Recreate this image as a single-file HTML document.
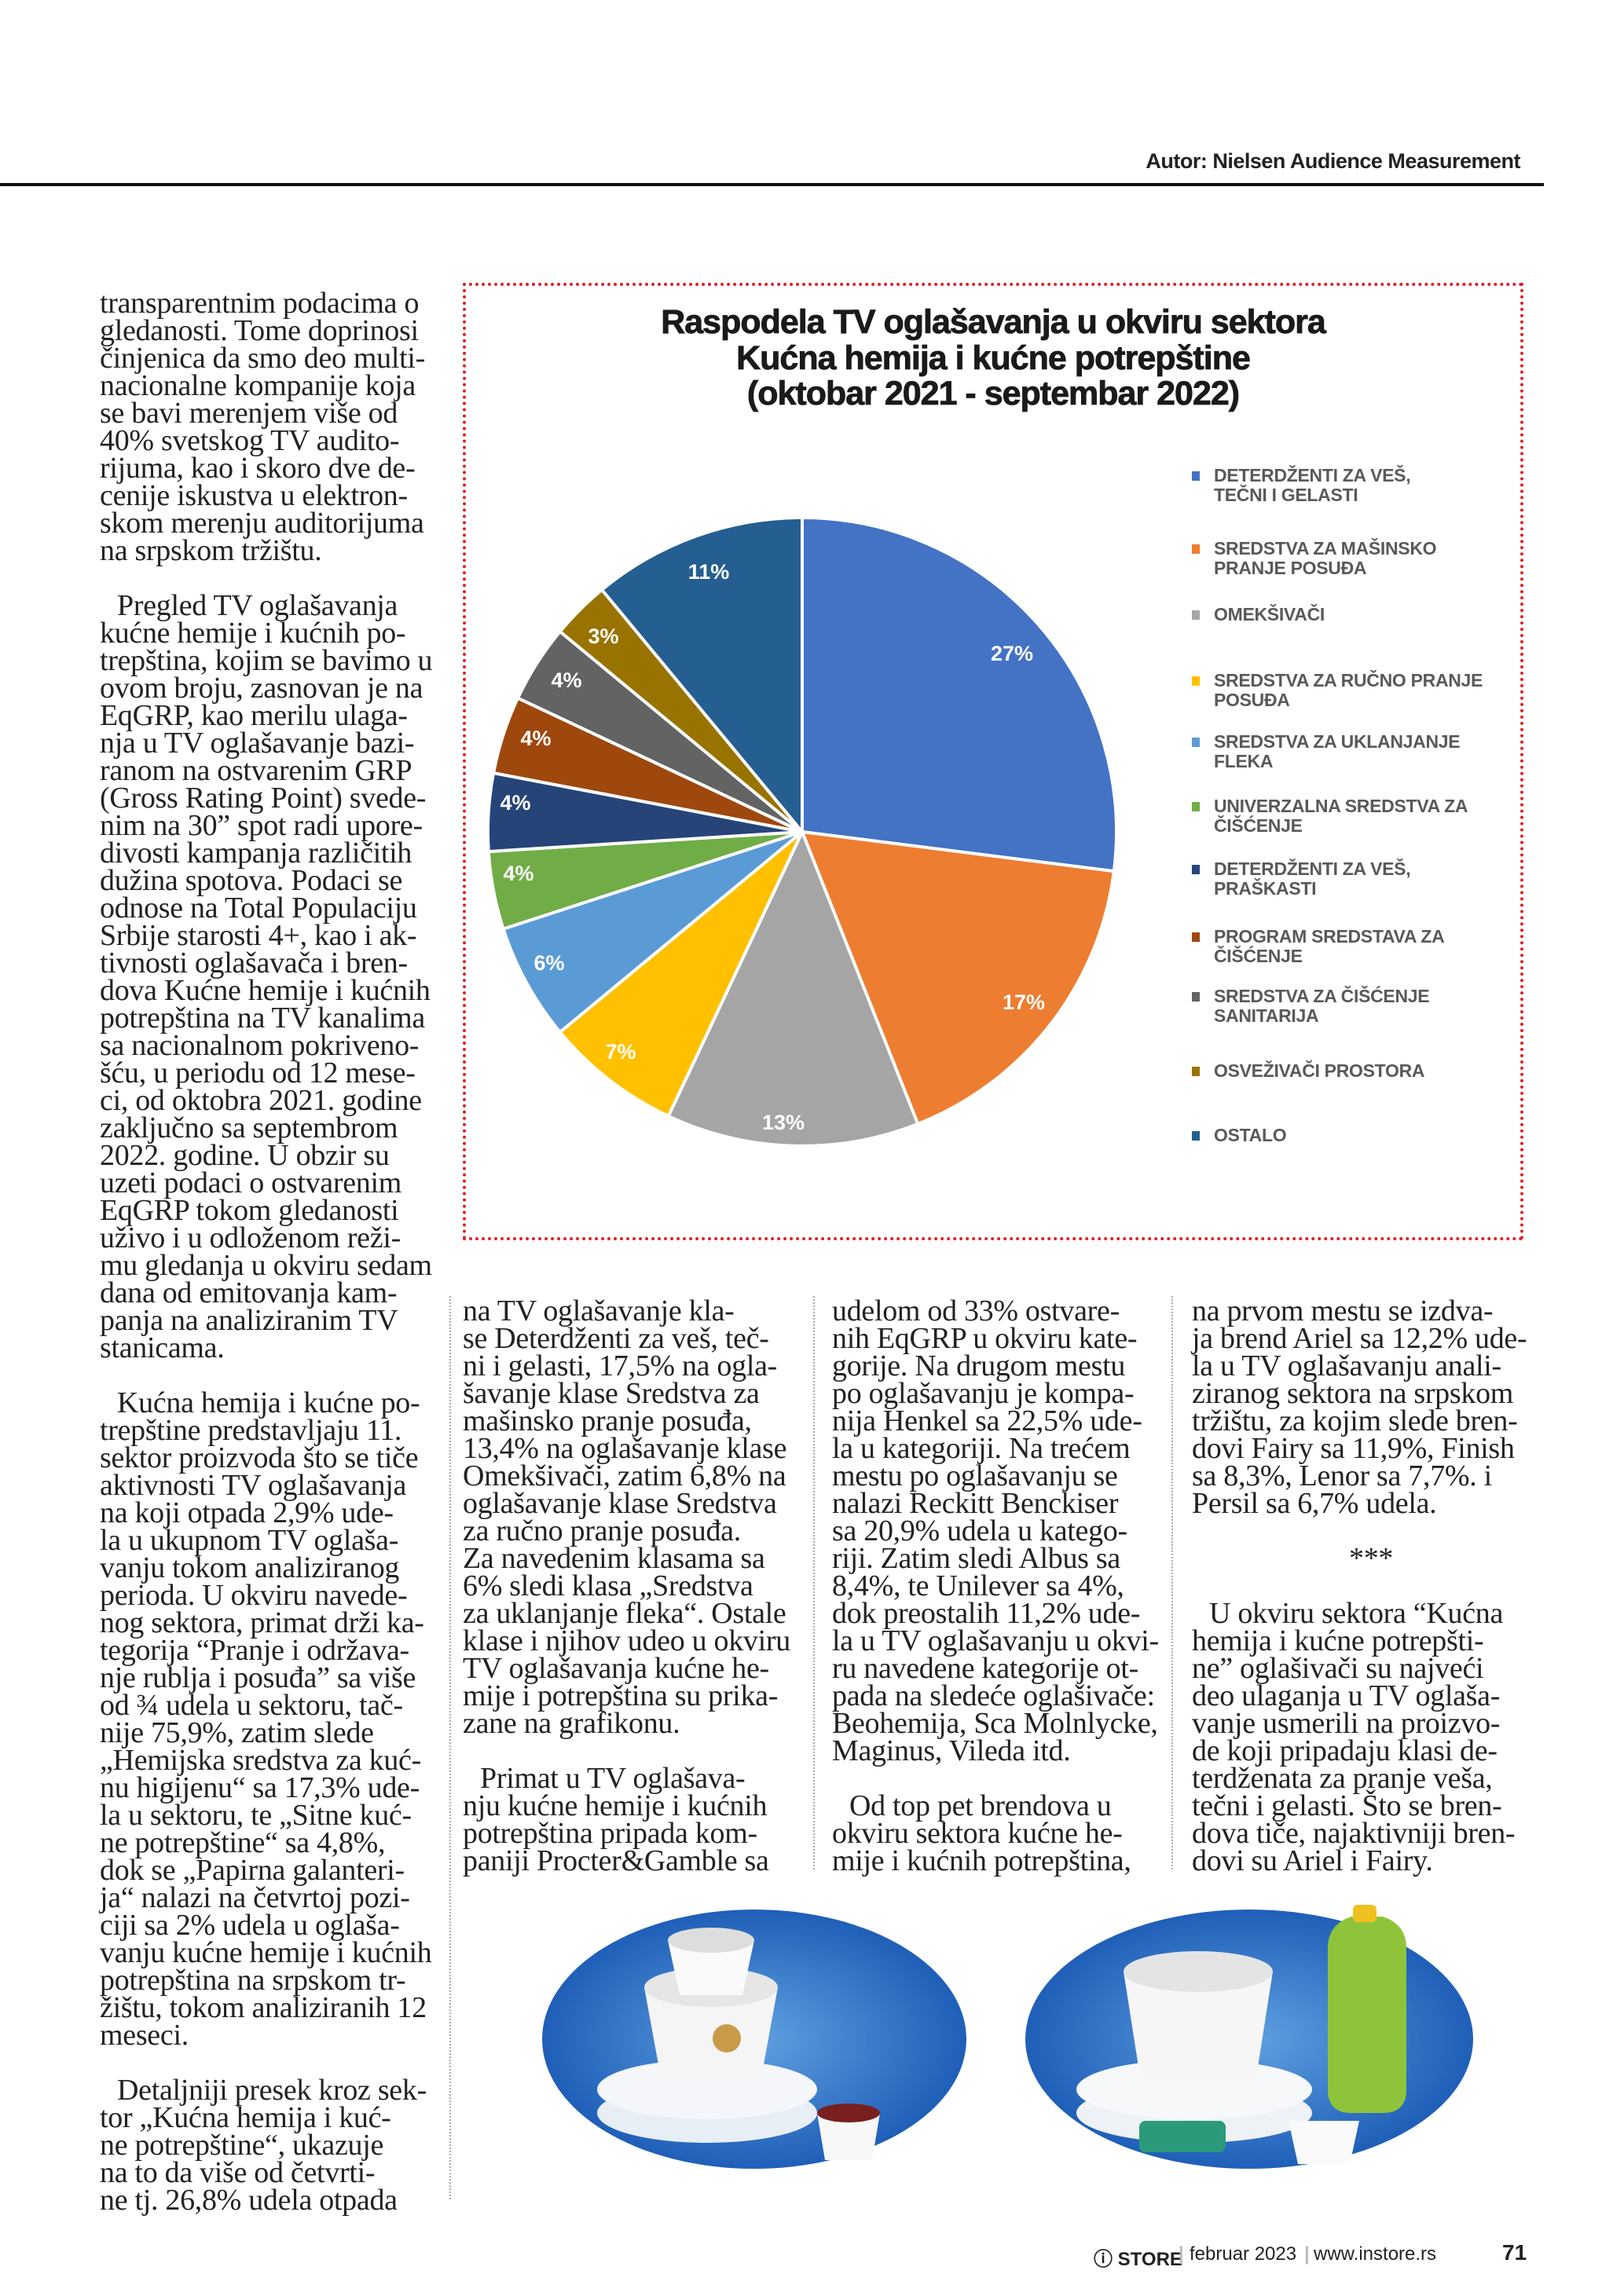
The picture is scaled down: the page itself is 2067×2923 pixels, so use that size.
<!DOCTYPE html>
<html><head><meta charset="utf-8">
<style>
body{margin:0;width:2067px;height:2923px;background:#fff;position:relative;overflow:hidden;font-family:"Liberation Serif",serif;color:#222}
.col{position:absolute;font-size:38px;line-height:35px;white-space:nowrap;letter-spacing:-0.3px}
.col div{height:35px}
.ind{padding-left:22px}
.rule{position:absolute;top:1650px;height:1150px;border-left:2px dotted #aaa}
.leg{position:absolute;left:1545px;font-family:"Liberation Sans",sans-serif;font-weight:bold;font-size:23px;line-height:25px;color:#595959;letter-spacing:-0.3px}
.sq{position:absolute;left:1517px;width:10px;height:12px}
.pl{font-family:"Liberation Sans",sans-serif;font-weight:bold;font-size:27px;fill:#fff}
.ft{position:absolute;top:2856px;font-family:"Liberation Sans",sans-serif;font-weight:bold;font-size:24px;color:#222}
</style></head><body>
<div style="position:absolute;right:132px;top:190px;font-family:'Liberation Sans',sans-serif;font-weight:bold;font-size:27px;letter-spacing:-0.5px">Autor: Nielsen Audience Measurement</div>
<div style="position:absolute;left:0;top:233px;width:1965px;height:4px;background:#111"></div>

<div style="position:absolute;left:589px;top:360px;width:1342px;height:1211px;border:4px dotted #e02020"></div>
<div style="position:absolute;left:589px;top:388px;width:1350px;text-align:center;font-family:'Liberation Sans',sans-serif;font-weight:bold;font-size:43px;line-height:45.5px;letter-spacing:-1px;color:#1a1a1a;-webkit-text-stroke:0.8px #1a1a1a">Raspodela TV oglašavanja u okviru sektora<br>Kućna hemija i kućne potrepštine<br>(oktobar 2021 - septembar 2022)</div>

<svg id="pie" style="position:absolute;left:0;top:0" width="2067" height="2923"></svg>

<div class="sq" style="top:600px;background:#4472C4"></div><div class="leg" style="top:593px">DETERDŽENTI ZA VEŠ,<br>TEČNI I GELASTI</div>
<div class="sq" style="top:693px;background:#ED7D31"></div><div class="leg" style="top:686px">SREDSTVA ZA MAŠINSKO<br>PRANJE POSUĐA</div>
<div class="sq" style="top:777px;background:#A5A5A5"></div><div class="leg" style="top:770px">OMEKŠIVAČI</div>
<div class="sq" style="top:861px;background:#FFC000"></div><div class="leg" style="top:854px">SREDSTVA ZA RUČNO PRANJE<br>POSUĐA</div>
<div class="sq" style="top:939px;background:#5B9BD5"></div><div class="leg" style="top:932px">SREDSTVA ZA UKLANJANJE<br>FLEKA</div>
<div class="sq" style="top:1021px;background:#70AD47"></div><div class="leg" style="top:1014px">UNIVERZALNA SREDSTVA ZA<br>ČIŠĆENJE</div>
<div class="sq" style="top:1101px;background:#264478"></div><div class="leg" style="top:1094px">DETERDŽENTI ZA VEŠ,<br>PRAŠKASTI</div>
<div class="sq" style="top:1187px;background:#9E480E"></div><div class="leg" style="top:1180px">PROGRAM SREDSTAVA ZA<br>ČIŠĆENJE</div>
<div class="sq" style="top:1263px;background:#636363"></div><div class="leg" style="top:1256px">SREDSTVA ZA ČIŠĆENJE<br>SANITARIJA</div>
<div class="sq" style="top:1358px;background:#997300"></div><div class="leg" style="top:1351px">OSVEŽIVAČI PROSTORA</div>
<div class="sq" style="top:1440px;background:#255E91"></div><div class="leg" style="top:1433px">OSTALO</div>

<div class="col" style="left:127px;top:369px">
<div>transparentnim podacima o</div><div>gledanosti. Tome doprinosi</div><div>činjenica da smo deo multi-</div><div>nacionalne kompanije koja</div><div>se bavi merenjem više od</div><div>40% svetskog TV audito-</div><div>rijuma, kao i skoro dve de-</div><div>cenije iskustva u elektron-</div><div>skom merenju auditorijuma</div><div>na srpskom tržištu.</div><div></div>
<div class="ind">Pregled TV oglašavanja</div><div>kućne hemije i kućnih po-</div><div>trepština, kojim se bavimo u</div><div>ovom broju, zasnovan je na</div><div>EqGRP, kao merilu ulaga-</div><div>nja u TV oglašavanje bazi-</div><div>ranom na ostvarenim GRP</div><div>(Gross Rating Point) svede-</div><div>nim na 30” spot radi upore-</div><div>divosti kampanja različitih</div><div>dužina spotova. Podaci se</div><div>odnose na Total Populaciju</div><div>Srbije starosti 4+, kao i ak-</div><div>tivnosti oglašavača i bren-</div><div>dova Kućne hemije i kućnih</div><div>potrepština na TV kanalima</div><div>sa nacionalnom pokriveno-</div><div>šću, u periodu od 12 mese-</div><div>ci, od oktobra 2021. godine</div><div>zaključno sa septembrom</div><div>2022. godine. U obzir su</div><div>uzeti podaci o ostvarenim</div><div>EqGRP tokom gledanosti</div><div>uživo i u odloženom reži-</div><div>mu gledanja u okviru sedam</div><div>dana od emitovanja kam-</div><div>panja na analiziranim TV</div><div>stanicama.</div><div></div>
<div class="ind">Kućna hemija i kućne po-</div><div>trepštine predstavljaju 11.</div><div>sektor proizvoda što se tiče</div><div>aktivnosti TV oglašavanja</div><div>na koji otpada 2,9% ude-</div><div>la u ukupnom TV oglaša-</div><div>vanju tokom analiziranog</div><div>perioda. U okviru navede-</div><div>nog sektora, primat drži ka-</div><div>tegorija “Pranje i održava-</div><div>nje rublja i posuđa” sa više</div><div>od ¾ udela u sektoru, tač-</div><div>nije 75,9%, zatim slede</div><div>„Hemijska sredstva za kuć-</div><div>nu higijenu“ sa 17,3% ude-</div><div>la u sektoru, te „Sitne kuć-</div><div>ne potrepštine“ sa 4,8%,</div><div>dok se „Papirna galanteri-</div><div>ja“ nalazi na četvrtoj pozi-</div><div>ciji sa 2% udela u oglaša-</div><div>vanju kućne hemije i kućnih</div><div>potrepština na srpskom tr-</div><div>žištu, tokom analiziranih 12</div><div>meseci.</div><div></div>
<div class="ind">Detaljniji presek kroz sek-</div><div>tor „Kućna hemija i kuć-</div><div>ne potrepštine“, ukazuje</div><div>na to da više od četvrti-</div><div>ne tj. 26,8% udela otpada</div>
</div>

<div class="rule" style="left:572px;height:1150px"></div>
<div class="rule" style="left:1035px;height:730px"></div>
<div class="rule" style="left:1491px;height:730px"></div>

<div class="col" style="left:589px;top:1652px">
<div>na TV oglašavanje kla-</div><div>se Deterdženti za veš, teč-</div><div>ni i gelasti, 17,5% na ogla-</div><div>šavanje klase Sredstva za</div><div>mašinsko pranje posuđa,</div><div>13,4% na oglašavanje klase</div><div>Omekšivači, zatim 6,8% na</div><div>oglašavanje klase Sredstva</div><div>za ručno pranje posuđa.</div><div>Za navedenim klasama sa</div><div>6% sledi klasa „Sredstva</div><div>za uklanjanje fleka“. Ostale</div><div>klase i njihov udeo u okviru</div><div>TV oglašavanja kućne he-</div><div>mije i potrepština su prika-</div><div>zane na grafikonu.</div><div></div>
<div class="ind">Primat u TV oglašava-</div><div>nju kućne hemije i kućnih</div><div>potrepština pripada kom-</div><div>paniji Procter&amp;Gamble sa</div>
</div>

<div class="col" style="left:1059px;top:1652px">
<div>udelom od 33% ostvare-</div><div>nih EqGRP u okviru kate-</div><div>gorije. Na drugom mestu</div><div>po oglašavanju je kompa-</div><div>nija Henkel sa 22,5% ude-</div><div>la u kategoriji. Na trećem</div><div>mestu po oglašavanju se</div><div>nalazi Reckitt Benckiser</div><div>sa 20,9% udela u katego-</div><div>riji. Zatim sledi Albus sa</div><div>8,4%, te Unilever sa 4%,</div><div>dok preostalih 11,2% ude-</div><div>la u TV oglašavanju u okvi-</div><div>ru navedene kategorije ot-</div><div>pada na sledeće oglašivače:</div><div>Beohemija, Sca Molnlycke,</div><div>Maginus, Vileda itd.</div><div></div>
<div class="ind">Od top pet brendova u</div><div>okviru sektora kućne he-</div><div>mije i kućnih potrepština,</div>
</div>

<div class="col" style="left:1517px;top:1652px">
<div>na prvom mestu se izdva-</div><div>ja brend Ariel sa 12,2% ude-</div><div>la u TV oglašavanju anali-</div><div>ziranog sektora na srpskom</div><div>tržištu, za kojim slede bren-</div><div>dovi Fairy sa 11,9%, Finish</div><div>sa 8,3%, Lenor sa 7,7%. i</div><div>Persil sa 6,7% udela.</div><div></div>
<div style="padding-left:200px">***</div><div></div>
<div class="ind">U okviru sektora “Kućna</div><div>hemija i kućne potrepšti-</div><div>ne” oglašivači su najveći</div><div>deo ulaganja u TV oglaša-</div><div>vanje usmerili na proizvo-</div><div>de koji pripadaju klasi de-</div><div>terdženata za pranje veša,</div><div>tečni i gelasti. Što se bren-</div><div>dova tiče, najaktivniji bren-</div><div>dovi su Ariel i Fairy.</div>
</div>

<svg style="position:absolute;left:0;top:0" width="2067" height="2923">
<defs><radialGradient id="bg" cx="50%" cy="50%" r="50%"><stop offset="0" stop-color="#5fa0e0"/><stop offset="1" stop-color="#1f5fb8"/></radialGradient></defs>
<ellipse cx="960" cy="2596" rx="270" ry="165" fill="url(#bg)"/>
<ellipse cx="1590" cy="2596" rx="285" ry="165" fill="url(#bg)"/>
<ellipse cx="900" cy="2690" rx="140" ry="38" fill="#e8eef5"/>
<ellipse cx="900" cy="2660" rx="140" ry="38" fill="#f4f6f9"/>
<path d="M820 2530 h170 l-22 120 h-126z" fill="#f5f5f5"/>
<ellipse cx="905" cy="2530" rx="85" ry="25" fill="#e6e6e6"/>
<path d="M850 2470 h110 l-15 70 h-80z" fill="#fafafa"/>
<ellipse cx="905" cy="2470" rx="55" ry="16" fill="#ddd"/>
<circle cx="925" cy="2595" r="18" fill="#c89a4a"/>
<path d="M1040 2690 h80 l-10 60 h-60z" fill="#f8f8f8"/>
<ellipse cx="1080" cy="2690" rx="40" ry="12" fill="#7a1f1f"/>
<ellipse cx="1520" cy="2690" rx="150" ry="38" fill="#eef2f6"/>
<ellipse cx="1520" cy="2660" rx="150" ry="38" fill="#f7f8fa"/>
<path d="M1430 2510 h190 l-22 140 h-146z" fill="#f6f6f6"/>
<ellipse cx="1525" cy="2510" rx="95" ry="26" fill="#e4e4e4"/>
<rect x="1450" y="2700" width="110" height="40" rx="8" fill="#2a9a7a"/>
<path d="M1690 2480 q0 -30 30 -40 h40 q30 10 30 40 v180 q0 30 -30 30 h-40 q-30 0 -30 -30z" fill="#8fc43a"/>
<rect x="1722" y="2425" width="30" height="22" rx="6" fill="#f0c020"/>
<path d="M1640 2700 h90 l-12 55 h-66z" fill="#fafafa"/>
</svg>

<div class="ft" style="left:1392px">ⓘ STORE</div>
<div class="ft" style="left:1500px;color:#bbb">|</div>
<div class="ft" style="left:1514px;font-weight:normal">februar 2023</div>
<div class="ft" style="left:1660px;color:#bbb">|</div>
<div class="ft" style="left:1672px;font-weight:normal">www.instore.rs</div>
<div class="ft" style="left:1912px;font-size:28px;top:2852px">71</div>

<script>
var svg=document.getElementById('pie');
var cx=1021,cy=1059,r=400;
var d=[[27,'#4472C4'],[17,'#ED7D31'],[13,'#A5A5A5'],[7,'#FFC000'],[6,'#5B9BD5'],[4,'#70AD47'],[4,'#264478'],[4,'#9E480E'],[4,'#636363'],[3,'#997300'],[11,'#255E91']];
var a=0,h='';
d.forEach(function(s){
 var a2=a+s[0]/100*2*Math.PI;
 var x1=cx+r*Math.sin(a),y1=cy-r*Math.cos(a),x2=cx+r*Math.sin(a2),y2=cy-r*Math.cos(a2);
 h+='<path d="M'+cx+' '+cy+' L'+x1+' '+y1+' A'+r+' '+r+' 0 '+((a2-a)>Math.PI?1:0)+' 1 '+x2+' '+y2+'Z" fill="'+s[1]+'" stroke="#fff" stroke-width="4"/>';
 a=a2;
});
var L=[['27%',1288,831],['17%',1303,1275],['13%',997,1428],['7%',790,1338],['6%',699,1225],['4%',660,1111],['4%',656,1021],['4%',682,939],['4%',721,865],['3%',768,809],['11%',902,727]];
L.forEach(function(l){h+='<text class="pl" x="'+l[1]+'" y="'+(l[2]+10)+'" text-anchor="middle">'+l[0]+'</text>';});
svg.innerHTML=h;
</script>
</body></html>
